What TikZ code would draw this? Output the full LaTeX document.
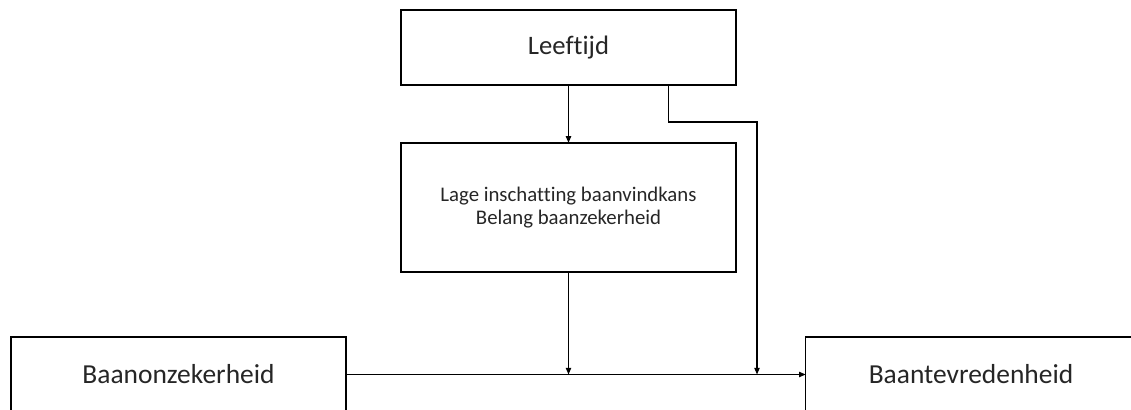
\documentclass[tikz,border=0pt]{standalone}
\usepackage{fontspec}
\setmainfont{Carlito}[Ligatures={NoCommon}]
\usepackage{tikz}
\usetikzlibrary{positioning, arrows.meta}

\tikzset{
  blok/.style={draw, line width=1.1pt, outer sep=0pt, inner sep=0pt,
    minimum width=251pt, minimum height=56pt, align=center, text=black!85},
  pijl/.style={-{Triangle[length=5pt, width=4pt]}, line width=0.9pt}
}

\begin{document}
\begin{tikzpicture}[x=0.75pt, y=-0.75pt]
\useasboundingbox (0,0) rectangle (1131,410);
% blokken
\node[blok, font=\fontsize{20}{23}\selectfont] (leeftijd) at (568.5,47.5) {Leeftijd};
\node[blok, minimum height=97pt, font=\fontsize{15.6}{17.4}\selectfont] (factoren) at (568.5,207.5)
  {Lage inschatting baanvindkans\\Belang baanzekerheid};
\node[blok, font=\fontsize{20.6}{24}\selectfont] (onzeker) at (178.5,374.5) {Baanonzekerheid};
\node[blok, minimum width=248pt, font=\fontsize{20.6}{24}\selectfont] (tevreden) at (971,374.5) {Baantevredenheid};
% pijlen
\coordinate (knik) at (757,122);
\draw[pijl] (leeftijd.south) -- (factoren.north);
\draw[pijl] (onzeker.east) -- (tevreden.west);
\draw[pijl] (factoren.south) -- (factoren.south |- onzeker.east);
\draw[pijl] ([xshift=75pt]leeftijd.south) |- (knik) -- (knik |- onzeker.east);
\end{tikzpicture}
\end{document}
